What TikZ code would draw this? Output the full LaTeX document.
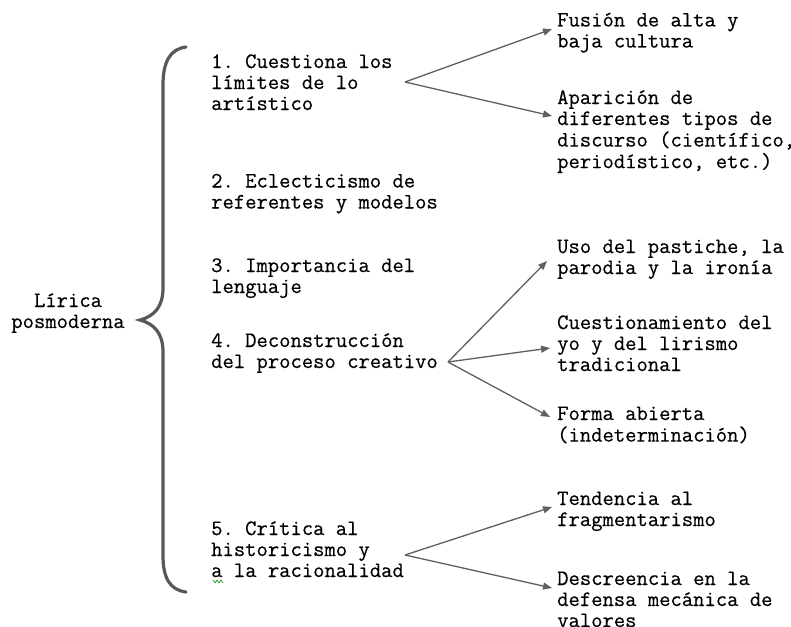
\documentclass[tikz,border=0pt]{standalone}
\usepackage{fontspec}
\newfontfamily\cour[FakeBold=0.4]{Latin Modern Mono}
\usetikzlibrary{arrows.meta}
\definecolor{arrowgray}{RGB}{96,96,96}
\definecolor{bracegray}{RGB}{88,88,88}
\definecolor{spellgreen}{RGB}{60,160,60}
\newcommand{\mlines}[1]{\begin{tabular}[t]{@{}l@{}}#1\end{tabular}}
\newcommand{\mlinesc}[1]{\begin{tabular}[t]{@{}c@{}}#1\end{tabular}}
\frenchspacing
\begin{document}
\begin{tikzpicture}[x=1pt,y=-1pt,
  txt/.style={inner sep=0pt,anchor=base west,font=\cour\fontsize{22}{21}\selectfont\frenchspacing},
  ctxt/.style={inner sep=0pt,anchor=base,font=\cour\fontsize{22}{21}\selectfont\frenchspacing},
  arr/.style={draw=arrowgray,line width=1.3pt,-{Triangle[length=9pt,width=7pt]}},
  bracestyle/.style={draw=bracegray,line width=3.2pt,line cap=round}]
\fill[white] (0,0) rectangle (791,626);
\useasboundingbox (0,0) rectangle (791,626);

% root
\node[ctxt] (root) at (68,307) {\mlinesc{Lírica\\posmoderna}};

% brace
\draw[bracestyle] (186,47) .. controls (170,49) and (163,62) .. (163,85)
  -- (163,288) .. controls (163,306) and (155,316) .. (140,320)
  .. controls (155,324) and (163,334) .. (163,352)
  -- (163,556) .. controls (163,578) and (170,590) .. (186,592);

% items
\node[txt] (i1) at (211,68) {\mlines{1. Cuestiona los\\límites de lo\\artístico}};
\node[txt] (i2) at (211,187.5) {\mlines{2. Eclecticismo de\\referentes y modelos}};
\node[txt] (i3) at (211,272) {\mlines{3. Importancia del\\lenguaje}};
\node[txt] (i4) at (211,347) {\mlines{4. Deconstrucción\\del proceso creativo}};
\node[txt] (i5) at (211,535) {\mlines{5. Crítica al\\historicismo y\\a la racionalidad}};

% right column
\node[txt] (r1) at (557,26.5) {\mlines{Fusión de alta y\\baja cultura}};
\node[txt] (r2) at (557,104) {\mlines{Aparición de\\diferentes tipos de\\discurso (científico,\\periodístico, etc.)}};
\node[txt] (r3) at (557,253) {\mlines{Uso del pastiche, la\\parodia y la ironía}};
\node[txt] (r4) at (557,329) {\mlines{Cuestionamiento del\\yo y del lirismo\\tradicional}};
\node[txt] (r5) at (557,420) {\mlines{Forma abierta\\(indeterminación)}};
\node[txt] (r6) at (557,505) {\mlines{Tendencia al\\fragmentarismo}};
\node[txt] (r7) at (557,585) {\mlines{Descreencia en la\\defensa mecánica de\\valores}};

% connector points
\coordinate (s1) at (405,82);
\coordinate (s4) at (448,362);
\coordinate (s5) at (405,555);
\coordinate (t1) at (552,29);
\coordinate (t2) at (552,116);
\coordinate (t3) at (547,261);
\coordinate (t4) at (550,348);
\coordinate (t5) at (550,417);
\coordinate (t6) at (552,507);
\coordinate (t7) at (552,588);

\draw[arr] (s1) -- (t1);
\draw[arr] (s1) -- (t2);
\draw[arr] (s4) -- (t3);
\draw[arr] (s4) -- (t4);
\draw[arr] (s4) -- (t5);
\draw[arr] (s5) -- (t6);
\draw[arr] (s5) -- (t7);

% spell-check squiggle
\draw[spellgreen,line width=0.8pt] (213,580) -- (215,583) -- (217,580) -- (219,583) -- (221,580) -- (223,583);
\end{tikzpicture}
\end{document}
